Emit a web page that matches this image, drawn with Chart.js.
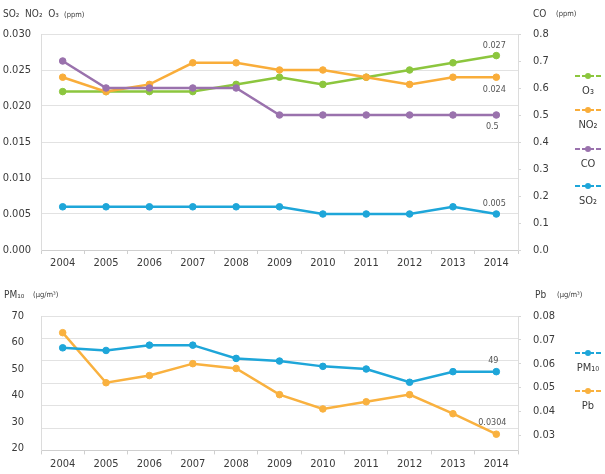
<!DOCTYPE html>
<html>
<head>
<meta charset="utf-8">
<script src="https://cdn.jsdelivr.net/npm/chart.js@4/dist/chart.umd.min.js"></script>
<style>
  html, body { margin: 0; padding: 0; background: #fff; }
  #wrap { position: relative; width: 605px; height: 474px; }
  .box { position: absolute; left: 0; width: 605px; }
</style>
</head>
<body>
<div id="wrap">
  <div class="box" style="top:0;height:270px"><canvas id="c1"></canvas></div>
  <div class="box" style="top:270px;height:204px"><canvas id="c2"></canvas></div>
</div>
<script>
// ---- data ----
const years = ['2004','2005','2006','2007','2008','2009','2010','2011','2012','2013','2014'];
const o3  = [0.022,0.022,0.022,0.022,0.023,0.024,0.023,0.024,0.025,0.026,0.027];
const no2 = [0.024,0.022,0.023,0.026,0.026,0.025,0.025,0.024,0.023,0.024,0.024];
const co  = [0.7,0.6,0.6,0.6,0.6,0.5,0.5,0.5,0.5,0.5,0.5];
const so2 = [0.006,0.006,0.006,0.006,0.006,0.006,0.005,0.005,0.005,0.006,0.005];
const pm10 = [58,57,59,59,54,53,51,50,45,49,49];
const pb   = [0.073,0.052,0.055,0.060,0.058,0.047,0.041,0.044,0.047,0.039,0.0304];
const gasTicks = [0.000,0.005,0.010,0.015,0.020,0.025,0.030];
const coTicks = [0.0,0.1,0.2,0.3,0.4,0.5,0.6,0.7,0.8];
const pmTicks = [20,30,40,50,60,70];
const pbTicks = [0.03,0.04,0.05,0.06,0.07,0.08];

const FONT = "'Liberation Sans Narrow', 'DejaVu Sans Condensed', 'Liberation Sans', sans-serif";
const C_O3 = '#8cc63e', C_NO2 = '#f9ad3a', C_CO = '#9a72ad', C_SO2 = '#1ea6d9';
const C_PM = '#1ea6d9', C_PB = '#f9b13f';
const GRID = '#e2e2e2', TXT = '#3a3a3a';

const extras = {
  id: 'extras',
  afterDatasetsDraw(chart, args, opts) {
    const ctx = chart.ctx;
    ctx.save();
    ctx.textBaseline = 'middle';
    (opts.titles || []).forEach(t => {
      ctx.font = t.size + 'px ' + FONT;
      ctx.fillStyle = TXT;
      ctx.textAlign = 'left';
      ctx.fillText(t.text, t.x, t.y);
    });
    (opts.legend || []).forEach(item => {
      const ds = chart.data.datasets[item.ds];
      const cx = opts.legendX;
      ctx.strokeStyle = ds.borderColor;
      ctx.lineWidth = 2;
      ctx.setLineDash([5, 2]);
      ctx.beginPath(); ctx.moveTo(cx - 13, item.y); ctx.lineTo(cx + 13, item.y); ctx.stroke();
      ctx.setLineDash([]);
      ctx.fillStyle = ds.borderColor;
      ctx.beginPath(); ctx.arc(cx, item.y, 3, 0, Math.PI * 2); ctx.fill();
      ctx.fillStyle = TXT;
      ctx.font = '11px ' + FONT;
      ctx.textAlign = 'center';
      ctx.fillText(ds.label, cx, item.y + 15);
    });
    (opts.values || []).forEach(v => {
      const meta = chart.getDatasetMeta(v.ds);
      const pt = meta.data[v.i];
      const val = chart.data.datasets[v.ds].data[v.i];
      ctx.font = '9px ' + FONT;
      ctx.fillStyle = '#555';
      ctx.textAlign = 'center';
      ctx.fillText(String(val), pt.x + v.dx, pt.y + v.dy);
    });
    ctx.restore();
  }
};

function ds(label, data, color, axis, order) {
  return {
    label, data, yAxisID: axis, order,
    borderColor: color, backgroundColor: color,
    borderWidth: 2.5, pointRadius: 3.3, pointBorderWidth: 1,
    pointBorderColor: color, pointBackgroundColor: color,
    tension: 0, fill: false
  };
}
function fixW(w) { return s => { s.width = w; }; }
function fixH(h) { return s => { s.height = h; }; }
const tickFont = { family: FONT, size: 11 };

// ---- top chart ----
new Chart(document.getElementById('c1'), {
  type: 'line',
  data: {
    labels: years,
    datasets: [
      ds('O₃', o3, C_O3, 'y', 3),
      ds('NO₂', no2, C_NO2, 'y', 2),
      ds('CO', co, C_CO, 'y1', 1),
      ds('SO₂', so2, C_SO2, 'y', 0)
    ]
  },
  options: {
    responsive: true, maintainAspectRatio: false, animation: false,
    layout: { padding: { top: 34, left: 0, right: 0, bottom: 0 } },
    plugins: {
      legend: { display: false }, tooltip: { enabled: false },
      extras: {
        titles: [
          { text: 'SO₂  NO₂  O₃', x: 3, y: 14, size: 10 },
          { text: '(ppm)', x: 64, y: 15, size: 7.5 },
          { text: 'CO', x: 533, y: 14, size: 10 },
          { text: '(ppm)', x: 556, y: 14, size: 7.5 }
        ],
        legendX: 588,
        legend: [ { ds: 0, y: 76 }, { ds: 1, y: 110 }, { ds: 2, y: 149 }, { ds: 3, y: 186 } ],
        values: [
          { ds: 0, i: 10, dx: -2, dy: -10 },
          { ds: 1, i: 10, dx: -2, dy: 12 },
          { ds: 2, i: 10, dx: -4, dy: 12 },
          { ds: 3, i: 10, dx: -2, dy: -10 }
        ]
      }
    },
    scales: {
      x: {
        offset: true,
        grid: { offset: true, drawOnChartArea: false, drawTicks: true, tickLength: 4, color: '#cfcfcf' },
        border: { display: true, color: '#cfcfcf' },
        ticks: { font: tickFont, color: TXT, padding: 3, maxRotation: 0 },
        afterFit: fixH(20)
      },
      y: {
        position: 'left', min: 0, max: 0.03,
        afterBuildTicks: s => { s.ticks = gasTicks.map(v => ({ value: v })); },
        ticks: { font: tickFont, color: TXT, padding: 10, callback: v => Number(v).toFixed(3) },
        grid: { color: GRID, drawTicks: false },
        border: { display: true, color: '#dcdcdc' },
        afterFit: fixW(41)
      },
      y1: {
        position: 'right', min: 0, max: 0.8,
        afterBuildTicks: s => { s.ticks = coTicks.map(v => ({ value: v })); },
        ticks: { font: tickFont, color: TXT, padding: 12, callback: v => Number(v).toFixed(1) },
        grid: { drawOnChartArea: false, drawTicks: true, tickLength: 3, color: '#d6d6d6' },
        border: { display: true, color: '#dcdcdc' },
        afterFit: fixW(87)
      }
    }
  },
  plugins: [extras]
});

// ---- bottom chart ----
new Chart(document.getElementById('c2'), {
  type: 'line',
  data: {
    labels: years,
    datasets: [
      ds('PM₁₀', pm10, C_PM, 'y', 0),
      ds('Pb', pb, C_PB, 'y1', 1)
    ]
  },
  options: {
    responsive: true, maintainAspectRatio: false, animation: false,
    layout: { padding: { top: 46, left: 0, right: 0, bottom: 0 } },
    plugins: {
      legend: { display: false }, tooltip: { enabled: false },
      extras: {
        titles: [
          { text: 'PM₁₀', x: 4, y: 25, size: 10 },
          { text: '(μg/m³)', x: 33, y: 25, size: 7.5 },
          { text: 'Pb', x: 535, y: 25, size: 10 },
          { text: '(μg/m³)', x: 557, y: 25, size: 7.5 }
        ],
        legendX: 588,
        legend: [ { ds: 0, y: 83 }, { ds: 1, y: 121 } ],
        values: [
          { ds: 0, i: 10, dx: -3, dy: -11 },
          { ds: 1, i: 10, dx: -4, dy: -12 }
        ]
      }
    },
    scales: {
      x: {
        offset: true,
        grid: { offset: true, drawOnChartArea: false, drawTicks: true, tickLength: 4, color: '#cfcfcf' },
        border: { display: true, color: '#cfcfcf' },
        ticks: { font: tickFont, color: TXT, padding: 3, maxRotation: 0 },
        afterFit: fixH(21)
      },
      g: {
        position: 'left', min: 0, max: 6,
        ticks: { display: false, stepSize: 1 },
        grid: { color: GRID, drawTicks: false },
        border: { display: false },
        afterFit: fixW(0)
      },
      y: {
        position: 'left', min: 19.3, max: 70,
        afterBuildTicks: s => { s.ticks = pmTicks.map(v => ({ value: v })); },
        ticks: { font: tickFont, color: TXT, padding: 17, callback: v => String(v) },
        grid: { drawOnChartArea: false, drawTicks: false },
        border: { display: true, color: '#dcdcdc' },
        afterFit: fixW(41)
      },
      y1: {
        position: 'right', min: 0.0236, max: 0.08,
        afterBuildTicks: s => { s.ticks = pbTicks.map(v => ({ value: v })); },
        ticks: { font: tickFont, color: TXT, padding: 12, callback: v => Number(v).toFixed(2) },
        grid: { drawOnChartArea: false, drawTicks: true, tickLength: 3, color: '#d6d6d6' },
        border: { display: true, color: '#dcdcdc' },
        afterFit: fixW(87)
      }
    }
  },
  plugins: [extras]
});
</script>
</body>
</html>
